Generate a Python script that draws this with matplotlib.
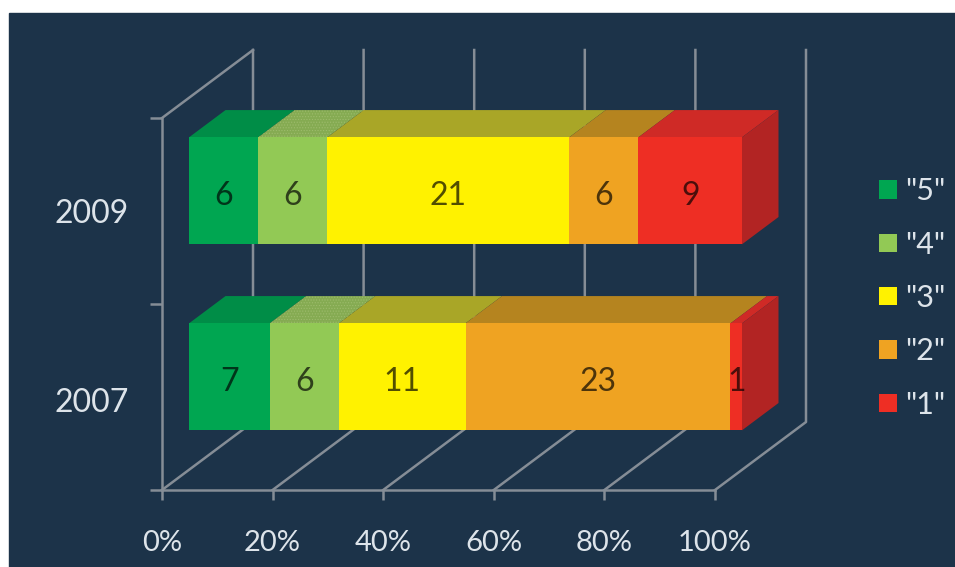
import matplotlib

matplotlib.use("Agg")
import matplotlib.pyplot as plt
from matplotlib.patches import Rectangle

plt.rcParams["font.family"] = ["Lato", "DejaVu Sans"]
plt.rcParams["hatch.linewidth"] = 0.5

years = ["2007", "2009"]
grades = ['"5"', '"4"', '"3"', '"2"', '"1"']
values_2007 = [7, 6, 11, 23, 1]
values_2009 = [6, 6, 21, 6, 9]
x_ticks = [0, 20, 40, 60, 80, 100]

front_colors = ["#00a651", "#92c955", "#fff200", "#efa322", "#ee2e24"]
top_colors = ["#008d47", "#85ab52", "#a9a627", "#b5841f", "#cf2a26"]
side_color = "#b22423"
panel_color = "#1c3349"
grid_color = "#858d96"
text_color = "#dde4ea"

W, H = 955, 567
# one unit of depth moves this far in data units
DEPTH_X = 91 / 553 * 100
DEPTH_Y = 68 / 186
BAR_FRONT = 27 / 91
BAR_BACK = 63.5 / 91
BAR_HEIGHT = 0.575

fig = plt.figure(figsize=(W / 100, H / 100), dpi=100, facecolor="white")
fig.patches.append(Rectangle((9 / W, 0), 1, 1 - 13 / H, transform=fig.transFigure, color=panel_color, zorder=-5))

ax = fig.add_axes([162 / W, (H - 490) / H, 553 / W, 372 / H])
ax.patch.set_visible(False)
ax.set_xlim(0, 100)
ax.set_ylim(0, 2)


def project(x, y, depth):
    return x + depth * DEPTH_X, y + depth * DEPTH_Y


# walls and floor
for tick in x_ticks:
    bx0, by0 = project(tick, 0, 1)
    bx1, by1 = project(tick, 2, 1)
    ax.plot([tick, bx0, bx1], [0, by0, by1], color=grid_color, lw=1.8, clip_on=False, zorder=1)
tx, ty = project(0, 2, 1)
ax.plot([0, tx], [2, ty], color=grid_color, lw=1.8, clip_on=False, zorder=1)

# stacked bars, front faces through barh and the rest as polygons
for row, values in enumerate([values_2007, values_2009]):
    total = sum(values)
    y0 = row + 0.5 - BAR_HEIGHT / 2
    left = 0
    for i, value in enumerate(values):
        share = value / total * 100
        fx, fy = project(left, row + 0.5, BAR_FRONT)
        ax.barh(
            fy,
            share,
            height=BAR_HEIGHT,
            left=fx,
            color=front_colors[i],
            label=grades[i] if row == 0 else None,
            clip_on=False,
            zorder=3,
        )
        a = project(left, y0 + BAR_HEIGHT, BAR_FRONT)
        b = project(left + share, y0 + BAR_HEIGHT, BAR_FRONT)
        c = project(left + share, y0 + BAR_HEIGHT, BAR_BACK)
        d = project(left, y0 + BAR_HEIGHT, BAR_BACK)
        top = ax.fill(*zip(a, b, c, d), color=top_colors[i], lw=0, clip_on=False, zorder=2)[0]
        if i == 1:
            # the light green top is stippled in the original
            top.set_hatch("......")
            top.set_edgecolor("#9dbb6c")
        ax.text(
            fx + share / 2,
            fy - 0.03,
            str(value),
            ha="center",
            va="center",
            fontsize=23,
            color="black",
            alpha=0.68,
            zorder=4,
        )
        left += share
    a = project(100, y0, BAR_FRONT)
    b = project(100, y0 + BAR_HEIGHT, BAR_FRONT)
    c = project(100, y0 + BAR_HEIGHT, BAR_BACK)
    d = project(100, y0, BAR_BACK)
    ax.fill(*zip(a, b, c, d), color=side_color, lw=0, clip_on=False, zorder=2)

for side in ["top", "right"]:
    ax.spines[side].set_visible(False)
for side in ["left", "bottom"]:
    ax.spines[side].set_color(grid_color)
    ax.spines[side].set_linewidth(1.8)
    ax.spines[side].set_zorder(1)

ax.set_xticks(x_ticks)
ax.set_xticklabels([f"{t}%" for t in x_ticks])
ax.tick_params(axis="x", length=7.5, width=1.8, color=grid_color, labelcolor=text_color, labelsize=21, pad=21)
ax.set_yticks([0, 1, 2])
ax.set_yticklabels([])
ax.set_yticks([0.485, 1.5], labels=years, minor=True)
ax.tick_params(axis="y", which="major", length=8.5, width=1.8, color=grid_color)
ax.tick_params(axis="y", which="minor", length=0, labelcolor=text_color, labelsize=23, pad=24)

handles, labels = ax.get_legend_handles_labels()
ax.legend(
    handles,
    labels,
    loc="center left",
    bbox_to_anchor=(879 / W, (H - 298) / H),
    bbox_transform=fig.transFigure,
    frameon=False,
    fontsize=22,
    labelcolor=text_color,
    handlelength=0.6,
    handleheight=0.55,
    handletextpad=0.25,
    labelspacing=0.83,
    borderpad=0,
    borderaxespad=0,
)

fig.savefig("out.png", dpi=100, facecolor=fig.get_facecolor())
